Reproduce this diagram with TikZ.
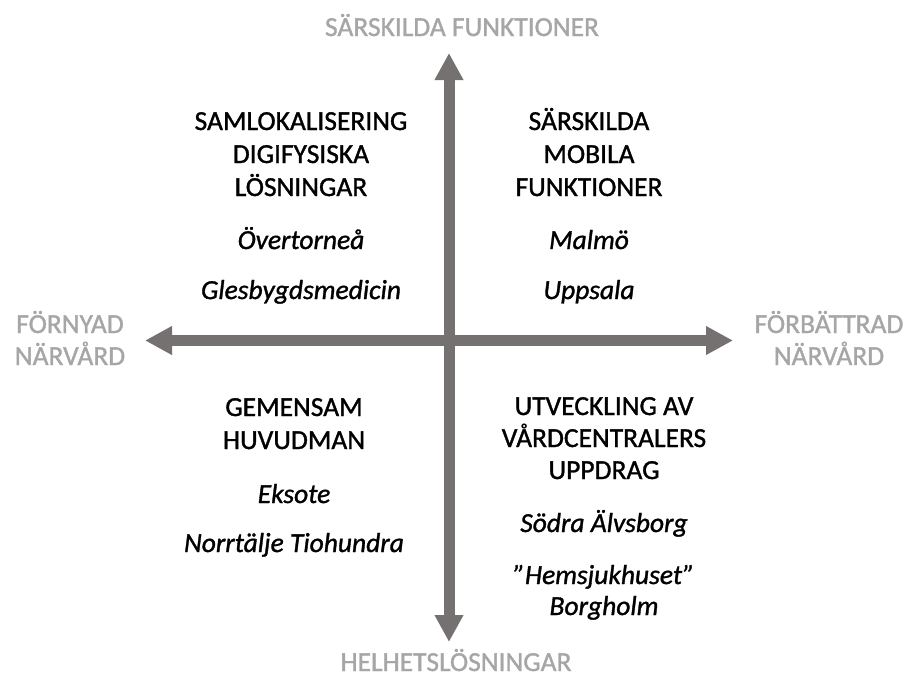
\documentclass[tikz,border=0pt]{standalone}
\usepackage{fontspec}
\setmainfont[FakeBold=1.2]{Carlito}
\usetikzlibrary{arrows.meta}
\definecolor{arrgray}{RGB}{118,113,113}
\definecolor{lblgray}{RGB}{166,166,166}
\begin{document}
\begin{tikzpicture}[x=1pt,y=-1pt,
  txt/.style={inner sep=0pt,anchor=base,font=\fontsize{27.5}{33}\selectfont},
  head/.style={txt,text=black},
  ex/.style={txt,text=black,font=\fontsize{27.5}{33}\selectfont\itshape},
  axislbl/.style={txt,text=lblgray},
  axisarrow/.style={arrgray,line width=11pt,
    {Triangle[length=27pt,width=27pt]}-{Triangle[length=27pt,width=27pt]}}
]
\useasboundingbox (0,0) rectangle (910,678);
% axes
\coordinate (top) at (449,53);
\coordinate (bottom) at (449,642);
\coordinate (left) at (145,340.5);
\coordinate (right) at (733,340.5);
\draw[axisarrow] (top) -- (bottom);
\draw[axisarrow] (left) -- (right);
% axis labels
\node[axislbl] (ltop) at (462,36) {SÄRSKILDA FUNKTIONER};
\node[axislbl] (lbot) at (456,671) {HELHETSLÖSNINGAR};
\node[axislbl] (lleft1) at (70,333) {FÖRNYAD};
\node[axislbl] (lleft2) at (70,365) {NÄRVÅRD};
\node[axislbl] (lright1) at (829,333) {FÖRBÄTTRAD};
\node[axislbl] (lright2) at (829,365) {NÄRVÅRD};
% top left
\node[head] (tl1) at (301,130) {SAMLOKALISERING};
\node[head] (tl2) at (301,163) {DIGIFYSISKA};
\node[head] (tl3) at (301,196) {LÖSNINGAR};
\node[ex] (tl4) at (301,249) {Övertorneå};
\node[ex] (tl5) at (301,299) {Glesbygdsmedicin};
% top right
\node[head] (tr1) at (589,130) {SÄRSKILDA};
\node[head] (tr2) at (589,163) {MOBILA};
\node[head] (tr3) at (589,196) {FUNKTIONER};
\node[ex] (tr4) at (589,249) {Malmö};
\node[ex] (tr5) at (589,299) {Uppsala};
% bottom left
\node[head] (bl1) at (294,416) {GEMENSAM};
\node[head] (bl2) at (294,449) {HUVUDMAN};
\node[ex] (bl3) at (294,503) {Eksote};
\node[ex] (bl4) at (294,552) {Norrtälje Tiohundra};
% bottom right
\node[head] (br1) at (604,415) {UTVECKLING AV};
\node[head] (br2) at (604,447) {VÅRDCENTRALERS};
\node[head] (br3) at (604,479) {UPPDRAG};
\node[ex] (br4) at (604,532) {Södra Älvsborg};
\node[ex] (br5) at (604,584) {”Hemsjukhuset”};
\node[ex] (br6) at (604,615) {Borgholm};
\end{tikzpicture}
\end{document}
